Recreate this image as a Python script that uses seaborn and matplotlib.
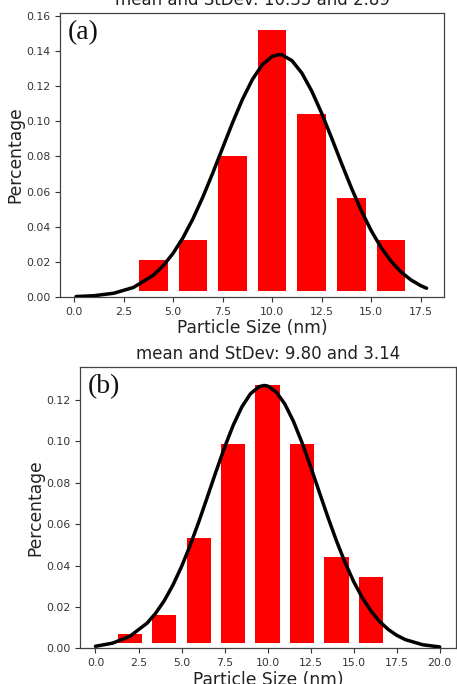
import matplotlib
matplotlib.use("Agg")
import matplotlib.pyplot as plt
import seaborn as sns
import pandas as pd

# ---- data ----
a_bin_centers = [4, 6, 8, 10, 12, 14, 16]
a_bar_values = [0.021, 0.0326, 0.0804, 0.152, 0.104, 0.0565, 0.0326]
a_curve_x = [0.1, 1.0, 2.0, 3.0, 4.0, 4.5, 5.0, 5.5, 6.0, 6.5, 7.0, 7.5, 8.0, 8.5,
             9.0, 9.5, 10.0, 10.35, 10.5, 11.0, 11.5, 12.0, 12.5, 13.0, 13.5,
             14.0, 14.5, 15.0, 15.5, 16.0, 16.5, 17.0, 17.5, 17.8]
a_curve_y = [0.000257, 0.000737, 0.00213, 0.00544, 0.01235, 0.01779, 0.02488,
             0.03377, 0.04447, 0.05683, 0.07051, 0.08488, 0.09918, 0.11246,
             0.12377, 0.13220, 0.13703, 0.13804, 0.13785, 0.13459, 0.12753,
             0.11728, 0.10467, 0.09066, 0.07621, 0.06217, 0.04923, 0.03784,
             0.02822, 0.02042, 0.01434, 0.00978, 0.00647, 0.00498]
a_title = "mean and StDev: 10.35 and 2.89"

b_bin_centers = [2, 4, 6, 8, 10, 12, 14, 16]
b_bar_values = [0.0068, 0.016, 0.0531, 0.0990, 0.1273, 0.0990, 0.0439, 0.0344]
b_curve_x = [0.0, 1.0, 2.0, 3.0, 3.5, 4.0, 4.5, 5.0, 5.5, 6.0, 6.5, 7.0, 7.5,
             8.0, 8.5, 9.0, 9.5, 9.8, 10.0, 10.5, 11.0, 11.5, 12.0, 12.5, 13.0,
             13.5, 14.0, 14.5, 15.0, 15.5, 16.0, 16.5, 17.0, 17.5, 18.0, 19.0, 20.0]
b_curve_y = [0.000975, 0.002503, 0.005808, 0.01218, 0.01698, 0.02307, 0.03057,
             0.03950, 0.04975, 0.06109, 0.07313, 0.08537, 0.09715, 0.10780,
             0.11662, 0.12299, 0.12647, 0.12705, 0.12679, 0.12393, 0.11810,
             0.10973, 0.09940, 0.08779, 0.07559, 0.06345, 0.05194, 0.04144,
             0.03224, 0.02446, 0.01809, 0.01304, 0.00917, 0.00628, 0.00420,
             0.001737, 0.00065]
b_title = "mean and StDev: 9.80 and 3.14"

x_label = "Particle Size (nm)"
y_label = "Percentage"

sns.set_theme(style="ticks")
plt.rcParams["font.family"] = ["DejaVu Sans"]

fig = plt.figure(figsize=(4.57, 6.84), dpi=100)
ax_a = fig.add_axes([0.1313, 0.5658, 0.8403, 0.4152])
ax_b = fig.add_axes([0.175, 0.0522, 0.823, 0.4113])


def panel(ax, centers, values, cx, cy, title, tag, width, bottom, xlim, ylim, yticks, xticks):
    df_bars = pd.DataFrame({"x": centers, "y": values})
    sns.barplot(data=df_bars, x="x", y="y", native_scale=True, color="#ff0000",
                saturation=1, width=width, ax=ax, errorbar=None, zorder=2)
    for p in ax.patches:
        h = p.get_height()
        p.set_y(bottom)
        p.set_height(h - bottom)
        p.set_edgecolor("none")
    df_curve = pd.DataFrame({"x": cx, "y": cy})
    sns.lineplot(data=df_curve, x="x", y="y", color="black", linewidth=2.5, ax=ax,
                 zorder=3)
    ax.set_xlim(*xlim)
    ax.set_ylim(*ylim)
    ax.set_xticks(xticks)
    ax.set_yticks(yticks)
    ax.xaxis.set_major_formatter(matplotlib.ticker.FormatStrFormatter("%.1f"))
    ax.yaxis.set_major_formatter(matplotlib.ticker.FormatStrFormatter("%.2f"))
    ax.tick_params(labelsize=7.8, length=3.5, width=0.8, colors="#333333")
    ax.set_xlabel(x_label, fontsize=12.3, color="#222222", labelpad=2)
    ax.set_ylabel(y_label, fontsize=12.3, color="#222222", labelpad=1)
    ax.set_title(title, fontsize=12, color="#222222", pad=6)
    for s in ax.spines.values():
        s.set_color("#444444")
        s.set_linewidth(0.9)
    ax.text(0.02, 0.975, tag, transform=ax.transAxes, ha="left", va="top",
            fontsize=20, family="Liberation Serif", color="#111111")


panel(ax_a, a_bin_centers, a_bar_values, a_curve_x, a_curve_y, a_title, "(a)",
      0.725, 0.0032, (-0.71, 18.68), (0, 0.1617),
      [0.0, 0.02, 0.04, 0.06, 0.08, 0.10, 0.12, 0.14, 0.16],
      [0.0, 2.5, 5.0, 7.5, 10.0, 12.5, 15.0, 17.5])
panel(ax_b, b_bin_centers, b_bar_values, b_curve_x, b_curve_y, b_title, "(b)",
      0.705, 0.0027, (-0.9, 20.95), (0, 0.136),
      [0.0, 0.02, 0.04, 0.06, 0.08, 0.10, 0.12],
      [0.0, 2.5, 5.0, 7.5, 10.0, 12.5, 15.0, 17.5, 20.0])

fig.savefig("out.png", dpi=100)
